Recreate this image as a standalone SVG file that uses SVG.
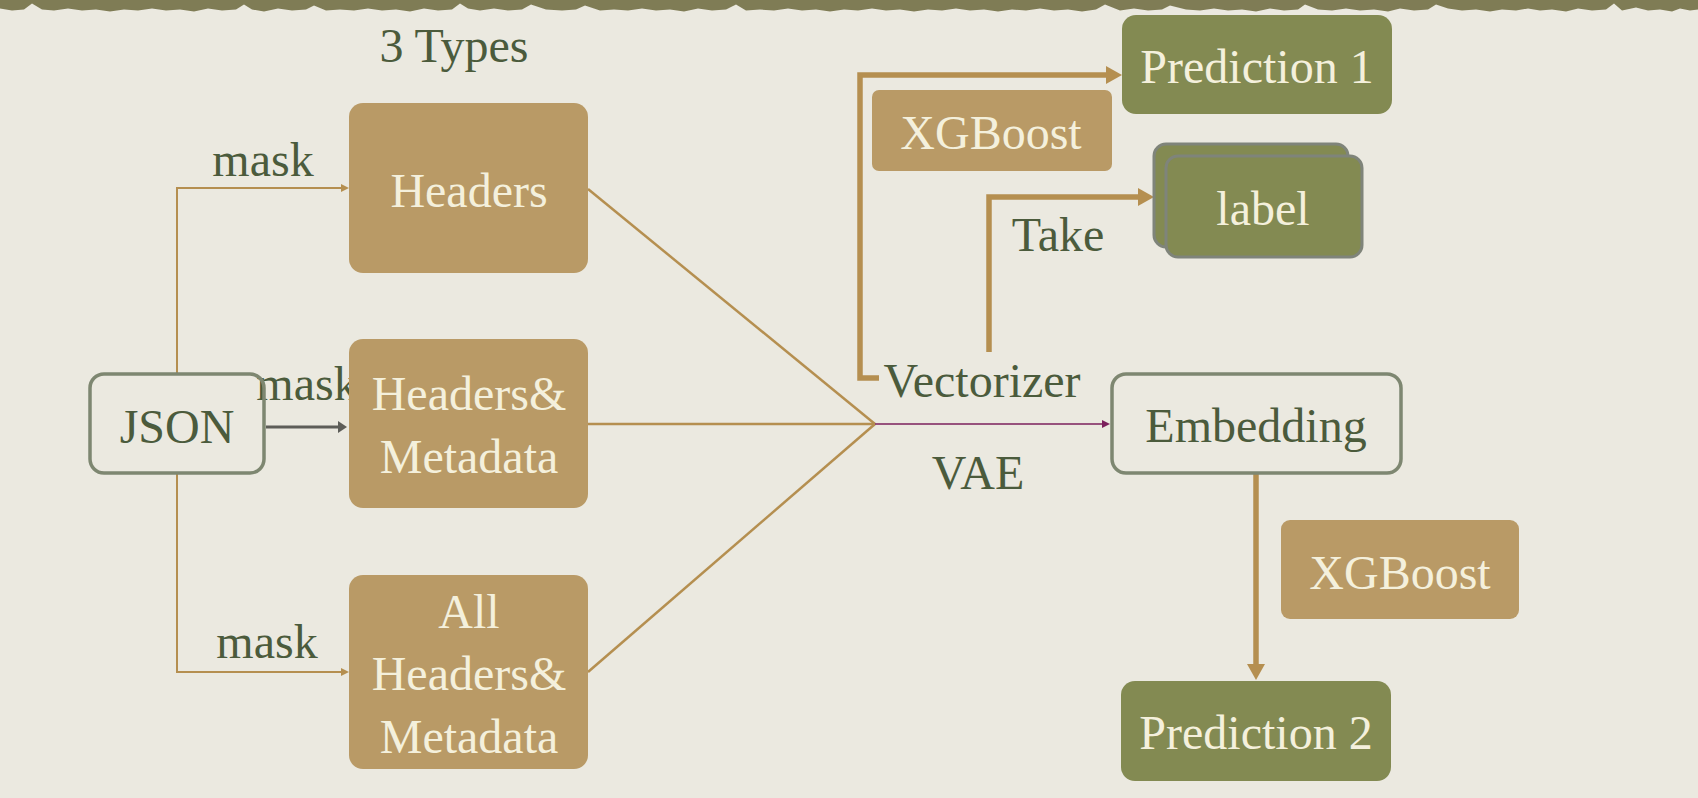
<svg xmlns="http://www.w3.org/2000/svg" width="1698" height="798" viewBox="0 0 1698 798">
  <style>
    .t { font-family: "Liberation Serif", "Times New Roman", serif; font-size: 48px; text-anchor: middle; }
    .dark { fill: #4b5b3c; }
    .light { fill: #f4f0dc; }
    .tan { fill: #b99a66; }
    .olive { fill: #838a52; }
    .outline { fill: none; stroke: #7e8771; stroke-width: 3.5; }
    .stack { fill: #838a52; stroke: #7f847a; stroke-width: 3; }
    .thin { fill: none; stroke: #b58f50; stroke-width: 2; }
    .fan { fill: none; stroke: #b58f50; stroke-width: 2.5; }
    .thick { fill: none; stroke: #b58f50; stroke-width: 5.5; }
  </style>
  <defs>
    <marker id="headThick" markerUnits="userSpaceOnUse" viewBox="0 0 16 18" markerWidth="16" markerHeight="18" refX="0" refY="9" orient="auto">
      <path d="M0,0 L16,9 L0,18 z" fill="#b58f50"/>
    </marker>
    <marker id="headThin" markerUnits="userSpaceOnUse" viewBox="0 0 8 8" markerWidth="8" markerHeight="8" refX="0" refY="4" orient="auto">
      <path d="M0,0 L8,4 L0,8 z" fill="#b58f50"/>
    </marker>
    <marker id="headGray" markerUnits="userSpaceOnUse" viewBox="0 0 9 12" markerWidth="9" markerHeight="12" refX="0" refY="6" orient="auto">
      <path d="M0,0 L9,6 L0,12 z" fill="#5d5d58"/>
    </marker>
    <marker id="headPurple" markerUnits="userSpaceOnUse" viewBox="0 0 8 8" markerWidth="8" markerHeight="8" refX="0" refY="4" orient="auto">
      <path d="M0,0 L8,4 L0,8 z" fill="#7b1f5c"/>
    </marker>
  </defs>

  <!-- paper -->
  <rect x="0" y="0" width="1698" height="798" fill="#ebe9e0"/>
  <!-- torn top edge -->
  <path fill="#7f7c55" transform="translate(0,1.5)" d="M0,0 H1698 V8 L1690,9 L1680,7 L1672,10 L1660,8 L1648,9 L1636,6 L1622,9 L1614,2 L1606,8 L1592,9 L1578,7 L1566,10 L1552,8 L1540,9 L1528,7 L1516,9 L1502,8 L1490,10 L1476,8 L1462,9 L1448,7 L1436,3 L1428,8 L1414,9 L1400,7 L1388,10 L1374,8 L1360,9 L1346,7 L1332,9 L1318,8 L1305,3 L1298,8 L1284,9 L1270,7 L1256,10 L1242,8 L1228,9 L1214,7 L1200,9 L1186,8 L1170,4 L1162,8 L1148,9 L1134,7 L1120,9 L1105,3 L1096,8 L1082,10 L1068,8 L1054,9 L1040,7 L1026,9 L1012,8 L998,10 L984,8 L970,9 L956,7 L942,9 L928,8 L914,10 L900,8 L886,9 L872,7 L858,9 L844,8 L830,10 L816,8 L802,9 L788,7 L774,9 L760,8 L746,9 L736,3 L726,8 L712,9 L698,7 L684,10 L670,8 L656,9 L642,7 L628,9 L614,8 L600,9 L585,4 L576,8 L562,9 L546,8 L531,3 L522,8 L508,9 L494,7 L480,9 L468,7 L460,2 L452,8 L438,9 L424,7 L410,10 L396,8 L382,9 L368,7 L354,9 L340,8 L326,9 L314,4 L306,8 L292,9 L278,7 L264,10 L252,8 L244,3 L236,8 L222,9 L208,7 L194,10 L180,8 L166,9 L152,7 L138,9 L124,8 L110,10 L96,8 L82,9 L68,7 L54,9 L42,8 L32,2 L24,8 L12,9 L0,7 Z"/>
  <rect x="0" y="0" width="1698" height="3" fill="#7f7c55"/>

  <text class="t dark" x="454" y="62">3 Types</text>

  <!-- connectors -->
  <g id="connectors">
    <path class="thin" d="M177,373 V188 H341" marker-end="url(#headThin)"/>
    <path class="thin" d="M177,473 V672 H341" marker-end="url(#headThin)"/>
    <path d="M266,427 H338" fill="none" stroke="#5d5d58" stroke-width="3" marker-end="url(#headGray)"/>
    <path class="fan" d="M588,189 L875,424"/>
    <path class="fan" d="M588,424 L875,424"/>
    <path class="fan" d="M588,672 L875,424"/>
    <path d="M875,424 H1102" fill="none" stroke="#7b1f5c" stroke-width="1.6" marker-end="url(#headPurple)"/>
    <path class="thick" d="M879,378 H860 V75 H1106" marker-end="url(#headThick)"/>
    <path class="thick" d="M989,352 V197 H1138" marker-end="url(#headThick)"/>
    <path class="thick" d="M1256,473 V664" marker-end="url(#headThick)"/>
  </g>

  <!-- edge labels -->
  <text class="t dark" x="263" y="176">mask</text>
  <text class="t dark" x="307" y="400">mask</text>
  <text class="t dark" x="267" y="658">mask</text>
  <text class="t dark" x="982" y="397">Vectorizer</text>
  <text class="t dark" x="978" y="489">VAE</text>
  <text class="t dark" x="1058" y="251">Take</text>

  <g id="json">
    <rect class="outline" x="90" y="374" width="174" height="99" rx="14"/>
    <text class="t dark" x="177" y="443">JSON</text>
  </g>

  <g id="headers">
    <rect class="tan" x="349" y="103" width="239" height="170" rx="14"/>
    <text class="t light" x="469" y="207">Headers</text>
  </g>

  <g id="headers-metadata">
    <rect class="tan" x="349" y="339" width="239" height="169" rx="14"/>
    <text class="t light" x="469" y="410">Headers&amp;</text>
    <text class="t light" x="469" y="473">Metadata</text>
  </g>

  <g id="all-headers-metadata">
    <rect class="tan" x="349" y="575" width="239" height="194" rx="14"/>
    <text class="t light" x="469" y="628">All</text>
    <text class="t light" x="469" y="690">Headers&amp;</text>
    <text class="t light" x="469" y="753">Metadata</text>
  </g>

  <g id="xgboost-top">
    <rect class="tan" x="872" y="90" width="240" height="81" rx="7"/>
    <text class="t light" x="991" y="149">XGBoost</text>
  </g>

  <g id="prediction-1">
    <rect class="olive" x="1122" y="15" width="270" height="99" rx="14"/>
    <text class="t light" x="1257" y="83">Prediction 1</text>
  </g>

  <g id="label">
    <rect class="stack" x="1154" y="144" width="194" height="103" rx="12"/>
    <rect class="stack" x="1166" y="156" width="196" height="101" rx="12"/>
    <text class="t light" x="1263" y="225">label</text>
  </g>

  <g id="embedding">
    <rect class="outline" x="1112" y="374" width="289" height="99" rx="14"/>
    <text class="t dark" x="1256" y="442">Embedding</text>
  </g>

  <g id="xgboost-bottom">
    <rect class="tan" x="1281" y="520" width="238" height="99" rx="9"/>
    <text class="t light" x="1400" y="589">XGBoost</text>
  </g>

  <g id="prediction-2">
    <rect class="olive" x="1121" y="681" width="270" height="100" rx="14"/>
    <text class="t light" x="1256" y="749">Prediction 2</text>
  </g>
</svg>
